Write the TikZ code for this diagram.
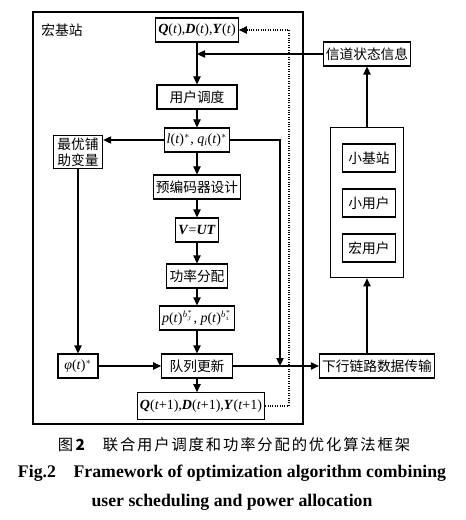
\documentclass[tikz,border=0pt]{standalone}
\usepackage{fontspec}
\setmainfont{Liberation Serif}
\newfontfamily\cjk{Noto Sans CJK SC}
\newfontfamily\cjkcap[LetterSpace=12]{Noto Sans CJK SC}
\usetikzlibrary{arrows.meta}
\begin{document}
\begin{tikzpicture}[x=0.75pt,y=-0.75pt,
    box/.style={draw, thick, minimum height=18pt, inner xsep=2pt, inner ysep=1pt, font=\fontsize{10.5}{12}\selectfont},
    cbox/.style={box, font=\cjk\fontsize{10.3}{12}\selectfont},
    arr/.style={thick, -{Triangle[length=6pt,width=5.5pt]}}]
      \useasboundingbox (0,0) rectangle (466,520);
      \draw[thick] (33,12) rectangle (303,424);
      \node[font=\cjk\fontsize{10.3}{12}\selectfont] (mbs) at (62,30) {宏基站};
      % left column: optimisation steps
      \node[box] (qt) at (197,30) {\textbf{\textit{Q}}(\textit{t}),\textbf{\textit{D}}(\textit{t}),\textbf{\textit{Y}}(\textit{t})};
      \node[cbox, minimum width=60pt] (sched) at (197,97) {用户调度};
      \node[box] (lq) at (197,140) {\textit{l}(\textit{t})$^{*}$, \textit{q}\textsubscript{\textit{i}}(\textit{t})$^{*}$};
      \node[cbox] (prec) at (197,187) {预编码器设计};
      \node[box] (vut) at (197,230) {\textbf{\textit{V}}=\textbf{\textit{UT}}};
      \node[cbox] (pow) at (197,276) {功率分配};
      \node[box] (pt) at (197,318) {\textit{p}(\textit{t})$^{b_j^*}$, \textit{p}(\textit{t})$^{b_i^*}$};
      \node[cbox, minimum width=53pt] (queue) at (197,366) {队列更新};
      \node[box, minimum height=20pt] (qn) at (201,406) {\textbf{\textit{Q}}(\textit{t}+1),\textbf{\textit{D}}(\textit{t}+1),\textbf{\textit{Y}}(\textit{t}+1)};
      \node[cbox, align=center, minimum width=37pt, minimum height=25pt] (aux) at (78,152) {最优铺\\助变量};
      \node[box, minimum width=30pt] (phi) at (78,366) {\textit{φ}(\textit{t})$^{*}$};
      % right column: network
      \node[cbox] (csi) at (367,54) {信道状态信息};
      \node[draw, thick, minimum width=55pt, minimum height=113pt] (devs) at (367,202.5) {};
      \node[cbox, minimum width=40pt, minimum height=21pt] (sbs) at (369,158) {小基站};
      \node[cbox, minimum width=40pt, minimum height=21pt] (su) at (369,203) {小用户};
      \node[cbox, minimum width=40pt, minimum height=21pt] (mu) at (369,248) {宏用户};
      \node[cbox] (dl) at (377,366) {下行链路数据传输};
      \coordinate (jn) at (280,366);
      \coordinate (dt) at (289,30);
      \draw[arr] (qt) -- (sched);
      \draw[arr] (csi.west) -- (csi.west -| qt.south);
      \draw[arr] (sched) -- (lq);
      \draw[arr] (lq) -- (prec);
      \draw[arr] (prec) -- (vut);
      \draw[arr] (vut) -- (pow);
      \draw[arr] (pow) -- (pt);
      \draw[arr] (pt) -- (queue);
      \draw[arr] (queue.south) -- (queue.south |- qn.north);
      \draw[arr] (lq.west) -- (aux.east |- lq.west);
      \draw[arr] (aux) -- (phi);
      \draw[arr] (phi) -- (queue);
      \draw[arr] (lq.east) -| (jn);
      \draw[arr] (queue) -- (dl);
      \draw[arr] (devs.south |- dl.north) -- (devs.south);
      \draw[arr] (devs) -- (csi);
      \draw[arr, densely dotted] (qn.east) -| (dt) -- (qt.east);
      % caption
      \node[font=\cjkcap\fontsize{11.5}{14}\selectfont] (cap1) at (234,445) {图\,\textbf{2}\hspace{12pt}联合用户调度和功率分配的优化算法框架};
      \node[font=\bfseries\fontsize{13.3}{14}\selectfont] (cap2) at (232,473) {Fig.2\quad Framework of optimization algorithm combining};
      \node[font=\bfseries\fontsize{13.3}{14}\selectfont] (cap3) at (232,502) {user scheduling and power allocation};
    \end{tikzpicture}
\end{document}
